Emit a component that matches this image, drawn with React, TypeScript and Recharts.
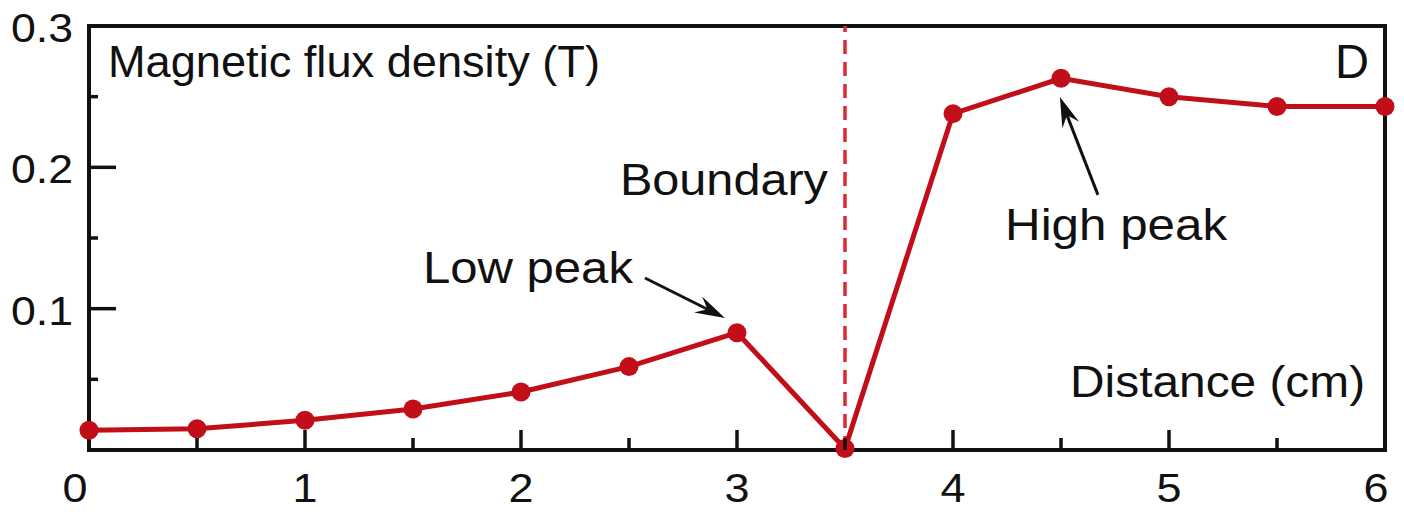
import {
  LineChart,
  Line,
  XAxis,
  YAxis,
  ReferenceLine,
  ReferenceArea,
  ReferenceDot,
} from 'recharts'

// distance along the sample (cm) and measured flux density (T)
const distance = [0, 0.5, 1, 1.5, 2, 2.5, 3, 3.5, 4, 4.5, 5, 5.5, 6]
const flux = [0.014, 0.015, 0.021, 0.029, 0.041, 0.059, 0.083, 0.001, 0.238, 0.263, 0.25, 0.243, 0.243]

const xTicks = [0, 0.5, 1, 1.5, 2, 2.5, 3, 3.5, 4, 4.5, 5, 5.5, 6]
const yTicks = [0, 0.05, 0.1, 0.15, 0.2, 0.25, 0.3]
const boundaryAt = 3.5

// annotation anchors, in data units (x cm, y T)
const notes = [
  { text: 'Magnetic flux density (T)', x: 0.088, y: 0.264, width: 492, size: 44 },
  { text: 'D', x: 5.769, y: 0.2633, width: 34, size: 48 },
  { text: 'Boundary', x: 2.458, y: 0.1805, width: 208, size: 44 },
  { text: 'Low peak', x: 1.546, y: 0.1182, width: 210, size: 44 },
  { text: 'High peak', x: 4.241, y: 0.1486, width: 222, size: 44 },
  { text: 'Distance (cm)', x: 4.542, y: 0.0375, width: 295, size: 44 },
]

const arrows = [
  { from: { x: 2.574, y: 0.1217 }, to: { x: 2.944, y: 0.0934 } },
  { from: { x: 4.671, y: 0.1805 }, to: { x: 4.495, y: 0.2498 } },
]

const data = distance.map((d, i) => ({ d, b: flux[i] }))

const FONT = '"Liberation Sans", Arial, Helvetica, sans-serif'
const INK = '#111'
const RED = '#c20e18'

function XTick({ x, y, payload }: any) {
  const v = payload.value as number
  const major = Number.isInteger(v)
  const edge = v === 0 || v === 6
  const shift = v === 0 ? -14 : v === 6 ? -9 : 0
  return (
    <g>
      {!edge && (
        <line x1={x} x2={x} y1={y} y2={y - (major ? 20 : 12)} stroke={INK} strokeWidth={3.5} />
      )}
      {major && (
        <text
          x={x + shift}
          y={y + 52}
          textAnchor="middle"
          fontFamily={FONT}
          fontSize={40}
          fill={INK}
          textLength={25}
          lengthAdjust="spacingAndGlyphs"
        >
          {v}
        </text>
      )}
    </g>
  )
}

function YTick({ x, y, payload }: any) {
  const v = payload.value as number
  const major = Math.round(v * 100) % 10 === 0
  return (
    <g>
      {v > 0 && v < 0.3 && (
        <line x1={x} x2={x + (major ? 27 : 9)} y1={y} y2={y} stroke={INK} strokeWidth={3.5} />
      )}
      {major && v > 0 && (
        <text
          x={x - 16}
          y={y + 16}
          textAnchor="end"
          fontFamily={FONT}
          fontSize={40}
          fill={INK}
          textLength={62}
          lengthAdjust="spacingAndGlyphs"
        >
          {v.toFixed(1)}
        </text>
      )}
    </g>
  )
}

function Arrow({ x1, y1, x2, y2 }: any) {
  const ang = Math.atan2(y2 - y1, x2 - x1)
  const len = 30
  const half = 9
  const back = { x: x2 - len * Math.cos(ang), y: y2 - len * Math.sin(ang) }
  const notch = { x: x2 - len * 0.65 * Math.cos(ang), y: y2 - len * 0.65 * Math.sin(ang) }
  const px = -Math.sin(ang) * half
  const py = Math.cos(ang) * half
  const pts = [
    `${x2},${y2}`,
    `${back.x + px},${back.y + py}`,
    `${notch.x},${notch.y}`,
    `${back.x - px},${back.y - py}`,
  ].join(' ')
  return (
    <g>
      <line x1={x1} y1={y1} x2={notch.x} y2={notch.y} stroke={INK} strokeWidth={3} />
      <polygon points={pts} fill={INK} />
    </g>
  )
}

function noteShape(n: (typeof notes)[number]) {
  return ({ cx, cy }: any) => (
    <text
      x={cx}
      y={cy}
      fontFamily={FONT}
      fontSize={n.size}
      fill={INK}
      textLength={n.width}
      lengthAdjust="spacingAndGlyphs"
    >
      {n.text}
    </text>
  )
}

export default function App() {
  return (
    <div style={{ position: 'absolute', left: 0, top: 0, width: 1404, height: 512, background: '#fff' }}>
      <LineChart width={1404} height={512} data={data} margin={{ top: 26, right: 19, bottom: 0, left: 0 }}>
        <XAxis
          dataKey="d"
          type="number"
          domain={[0, 6]}
          ticks={xTicks}
          interval={0}
          height={62}
          tickSize={0}
          tickMargin={0}
          tickLine={false}
          axisLine={false}
          tick={<XTick />}
        />
        <YAxis
          type="number"
          domain={[0, 0.3]}
          ticks={yTicks}
          interval={0}
          width={89}
          tickSize={0}
          tickMargin={0}
          tickLine={false}
          axisLine={false}
          tick={<YTick />}
        />
        <ReferenceArea x1={0} x2={6} y1={0} y2={0.3} fill="none" stroke={INK} strokeWidth={4} strokeOpacity={1} />
        <ReferenceLine x={boundaryAt} stroke="#dc2a30" strokeWidth={3.5} strokeDasharray="14 8" />
        {arrows.map((a, i) => (
          <ReferenceLine key={'a' + i} segment={[a.from, a.to]} shape={Arrow} />
        ))}
        {notes.map((n) => (
          <ReferenceDot key={n.text} x={n.x} y={n.y} r={1} shape={noteShape(n)} />
        ))}
        <Line
          type="linear"
          dataKey="b"
          stroke={RED}
          strokeWidth={5}
          dot={{ r: 9.5, fill: RED, stroke: 'none' }}
          activeDot={false}
          isAnimationActive={false}
        />
      </LineChart>
    </div>
  )
}
